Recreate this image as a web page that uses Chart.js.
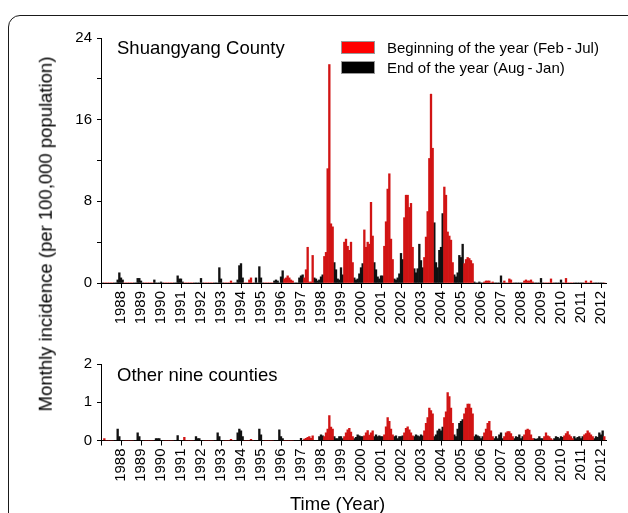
<!DOCTYPE html>
<html>
<head>
<meta charset="utf-8">
<script src="https://cdn.jsdelivr.net/npm/chart.js@4.4.1/dist/chart.umd.min.js"></script>
<style>
  html, body { margin: 0; padding: 0; background: #fff; }
  body { width: 628px; height: 513px; position: relative; overflow: hidden;
         font-family: 'Liberation Sans', Arial, sans-serif; color: #000; }
  .frame { position: absolute; left: 8px; top: 15px; width: 660px; height: 540px;
           border: 1.6px solid #1a1a1a; border-radius: 12px; }
  canvas { position: absolute; left: 0; }
  #top { top: 0; }
  #bottom { top: 340px; }
  .txt { position: absolute; font-size: 18.5px; line-height: 1; white-space: nowrap; }
  .ytitle { left: 46px; top: 234px; transform: translate(-50%, -50%) rotate(-90deg); }
  #legend { position: absolute; left: 341px; top: 41px; font-size: 15px; }
  #legend .row { display: flex; align-items: center; height: 13px; margin-bottom: 7px; white-space: nowrap; }
  #legend .sw { width: 34px; height: 13px; box-sizing: border-box; border: 1px solid #999; margin-right: 12px; }
</style>
</head>
<body>
<div class="frame"></div>
<canvas id="top" width="628" height="340"></canvas>
<canvas id="bottom" width="628" height="173"></canvas>
<div class="txt" style="left:117px; top:39px;">Shuangyang County</div>
<div class="txt" style="left:117px; top:366px;">Other nine counties</div>
<div class="txt ytitle">Monthly incidence (per 100,000 population)</div>
<div class="txt" style="left:290px; top:495px;">Time (Year)</div>
<div id="legend"></div>
<script>
// monthly incidence, one row per year (Jan..Dec), 1987 - early 2012
var years = [1987, 1988, 1989, 1990, 1991, 1992, 1993, 1994, 1995, 1996, 1997, 1998, 1999,
             2000, 2001, 2002, 2003, 2004, 2005, 2006, 2007, 2008, 2009, 2010, 2011, 2012];

var shuangyang = [
  [0, 0, 0, 0, 0, 0, 0, 0, 0, 0.3, 1.0, 0.5],
  [0.3, 0, 0, 0, 0, 0, 0, 0, 0, 0.45, 0.45, 0.2],
  [0, 0, 0, 0, 0, 0, 0, 0.3, 0, 0, 0, 0.1],
  [0, 0, 0, 0, 0, 0, 0, 0, 0, 0.7, 0.4, 0.4],
  [0.1, 0, 0, 0, 0, 0, 0, 0, 0, 0, 0, 0.45],
  [0, 0, 0, 0, 0, 0, 0, 0, 0, 0, 1.5, 0.4],
  [0, 0, 0, 0, 0, 0.2, 0, 0, 0, 0.3, 1.7, 1.9],
  [0.5, 0, 0, 0, 0.3, 0.5, 0, 0, 0.5, 0, 1.6, 0.5],
  [0, 0, 0, 0, 0, 0, 0, 0.2, 0.3, 0.2, 0, 0.6],
  [1.2, 0.4, 0.5, 0.7, 0.5, 0.3, 0.2, 0, 0, 0, 0.5, 0.7],
  [0.8, 0.5, 1.3, 3.5, 0.1, 0.1, 2.7, 0.5, 0.4, 0.2, 0.3, 0.6],
  [0.8, 2.6, 3.0, 11.2, 21.4, 5.8, 5.5, 2.0, 1.3, 0.4, 0.3, 1.5],
  [0.8, 4.0, 4.3, 3.6, 3.2, 4.0, 2.0, 0.5, 0.3, 0.4, 0.9, 1.5],
  [1.9, 5.2, 3.5, 4.0, 3.8, 7.9, 4.6, 2.0, 1.3, 0.6, 0.4, 0.7],
  [0.7, 3.6, 6.0, 9.2, 10.7, 4.3, 2.3, 0.4, 0.3, 0.5, 0.9, 2.9],
  [2.3, 6.4, 8.6, 8.6, 7.4, 7.8, 3.5, 1.4, 1.0, 1.4, 3.8, 2.2],
  [1.5, 2.5, 4.5, 7.0, 12.2, 18.5, 13.2, 5.9, 2.0, 1.5, 3.2, 3.5],
  [6.8, 9.4, 8.6, 5.0, 4.6, 4.2, 2.0, 0.8, 0.6, 1.0, 2.7, 2.5],
  [3.8, 1.9, 2.3, 2.5, 2.4, 2.2, 1.9, 0.1, 0, 0, 0.1, 0],
  [0, 0.1, 0.2, 0.2, 0.2, 0, 0.1, 0, 0, 0, 0, 0.7],
  [0, 0.2, 0, 0, 0.4, 0.3, 0, 0, 0, 0, 0, 0],
  [0, 0.2, 0.3, 0.2, 0.2, 0.3, 0.1, 0, 0, 0, 0, 0.45],
  [0, 0, 0, 0, 0, 0.4, 0, 0, 0, 0, 0, 0.3],
  [0, 0, 0.45, 0, 0, 0, 0, 0, 0, 0, 0, 0],
  [0, 0, 0.2, 0, 0, 0.2, 0, 0, 0, 0, 0, 0],
  [0, 0]
];

var otherCounties = [
  [0, 0.05, 0, 0, 0, 0, 0, 0, 0, 0.3, 0.1, 0],
  [0, 0, 0, 0, 0, 0, 0, 0, 0, 0.2, 0.1, 0],
  [0, 0, 0, 0, 0, 0, 0, 0, 0.05, 0.05, 0.05, 0],
  [0, 0, 0, 0, 0, 0, 0, 0, 0, 0.13, 0, 0],
  [0, 0.08, 0, 0, 0, 0, 0, 0, 0.1, 0.05, 0.05, 0],
  [0, 0, 0, 0, 0, 0, 0, 0, 0, 0.2, 0.1, 0],
  [0, 0, 0, 0, 0, 0.03, 0, 0, 0, 0.2, 0.3, 0.25],
  [0.1, 0, 0, 0, 0, 0.03, 0, 0, 0, 0, 0.3, 0.15],
  [0, 0, 0, 0, 0, 0, 0, 0, 0, 0, 0.28, 0.1],
  [0.05, 0, 0, 0, 0, 0, 0, 0, 0, 0, 0, 0.06],
  [0, 0.04, 0.06, 0.08, 0.1, 0.06, 0.12, 0, 0, 0, 0.1, 0.15],
  [0.12, 0.1, 0.2, 0.3, 0.65, 0.35, 0.3, 0.1, 0.05, 0.05, 0.1, 0.1],
  [0.05, 0.1, 0.2, 0.28, 0.32, 0.22, 0.1, 0.05, 0.08, 0.15, 0.12, 0.1],
  [0.1, 0.12, 0.2, 0.26, 0.14, 0.2, 0.25, 0.1, 0.15, 0.1, 0.12, 0.1],
  [0.1, 0.15, 0.36, 0.6, 0.5, 0.3, 0.15, 0.1, 0.12, 0.05, 0.1, 0.1],
  [0.12, 0.2, 0.32, 0.36, 0.28, 0.2, 0.12, 0.1, 0.15, 0.12, 0.1, 0.15],
  [0.12, 0.25, 0.45, 0.6, 0.85, 0.78, 0.7, 0.1, 0.15, 0.25, 0.3, 0.25],
  [0.35, 0.6, 0.75, 1.25, 1.15, 0.85, 0.45, 0.15, 0.1, 0.3, 0.45, 0.5],
  [0.55, 0.7, 0.85, 0.95, 0.95, 0.85, 0.7, 0.1, 0.15, 0.12, 0.1, 0.05],
  [0.1, 0.2, 0.3, 0.45, 0.5, 0.25, 0.1, 0.05, 0.1, 0.05, 0.15, 0.2],
  [0.05, 0.1, 0.2, 0.23, 0.23, 0.18, 0.1, 0.05, 0.1, 0.08, 0.15, 0.05],
  [0.1, 0.15, 0.27, 0.3, 0.27, 0.15, 0.05, 0.05, 0.03, 0.05, 0.1, 0.05],
  [0.05, 0.1, 0.2, 0.12, 0.1, 0.05, 0.02, 0.05, 0.1, 0.08, 0.05, 0.1],
  [0.08, 0.12, 0.18, 0.23, 0.15, 0.1, 0.05, 0.1, 0.05, 0.08, 0.1, 0.05],
  [0.1, 0.15, 0.18, 0.25, 0.2, 0.15, 0.1, 0.05, 0.1, 0.08, 0.2, 0.15],
  [0.25, 0.1]
];

var seriesNames = ['Beginning of the year (Feb\u2009-\u2009Jul)', 'End of the year (Aug\u2009-\u2009Jan)'];
var seriesColors = ['#d11414', '#111111'];
var legendColors = ['#ff0000', '#000000'];
var earlyMonths = [1, 2, 3, 4, 5, 6]; // Feb..Jul, 0-based

var FONT = "'Liberation Sans', Arial, sans-serif";

// split monthly rows into the two seasonal series
var splitSeries = function (rows) {
  var early = [], late = [];
  rows.forEach(function (row, k) {
    row.forEach(function (v, m) {
      var pt = { x: years[k] + (m + 1) / 12, y: v };
      if (earlyMonths.indexOf(m) >= 0) early.push(pt); else late.push(pt);
    });
  });
  return [early, late];
};

var makeChart = function (id, rows, yMax, yStep, labelEvery, padTop, axisHeight) {
  var parts = splitSeries(rows);
  var datasets = parts.map(function (data, i) {
    return {
      label: seriesNames[i],
      data: data,
      backgroundColor: seriesColors[i],
      borderWidth: 0,
      grouped: false,
      barPercentage: 1,
      categoryPercentage: 1
    };
  });

  return new Chart(document.getElementById(id), {
    type: 'bar',
    data: { datasets: datasets },
    options: {
      responsive: false,
      animation: false,
      devicePixelRatio: 1,
      layout: { padding: { left: 0, right: 22, top: padTop, bottom: 0 } },
      plugins: { legend: { display: false }, tooltip: { enabled: false } },
      scales: {
        x: {
          type: 'linear',
          min: 1987,
          max: 2012.25,
          bounds: 'data',
          offset: false,
          grid: { drawOnChartArea: false, offset: false, color: '#000', tickLength: 5 },
          border: { color: '#000', width: 1 },
          ticks: {
            stepSize: 1,
            includeBounds: false,
            autoSkip: false,
            minRotation: 90,
            maxRotation: 90,
            padding: 3,
            color: '#000',
            font: { family: FONT, size: 15 },
            callback: function (v) { return (v >= 1988 && Number.isInteger(v)) ? String(v) : ''; }
          },
          afterFit: function (scale) { scale.height = axisHeight; }
        },
        y: {
          min: 0,
          max: yMax,
          grid: { drawOnChartArea: false, color: '#000', tickLength: 4 },
          border: { color: '#000', width: 1 },
          ticks: {
            stepSize: yStep,
            padding: 5,
            color: '#000',
            font: { family: FONT, size: 15 },
            callback: function (v) { return (Math.abs(v % labelEvery) < 1e-9) ? String(v) : ''; }
          },
          afterFit: function (scale) { scale.width = 101; }
        }
      }
    }
  });
};

var topChart = makeChart('top', shuangyang, 24, 4, 8, 38, 57);
makeChart('bottom', otherCounties, 2, 0.5, 1, 24, 72.5);

// legend, built from the datasets
var legend = document.getElementById('legend');
topChart.data.datasets.forEach(function (ds, i) {
  var row = document.createElement('div');
  row.className = 'row';
  var sw = document.createElement('span');
  sw.className = 'sw';
  sw.style.background = legendColors[i];
  var t = document.createElement('span');
  t.textContent = ds.label;
  row.appendChild(sw);
  row.appendChild(t);
  legend.appendChild(row);
});
</script>
</body>
</html>
